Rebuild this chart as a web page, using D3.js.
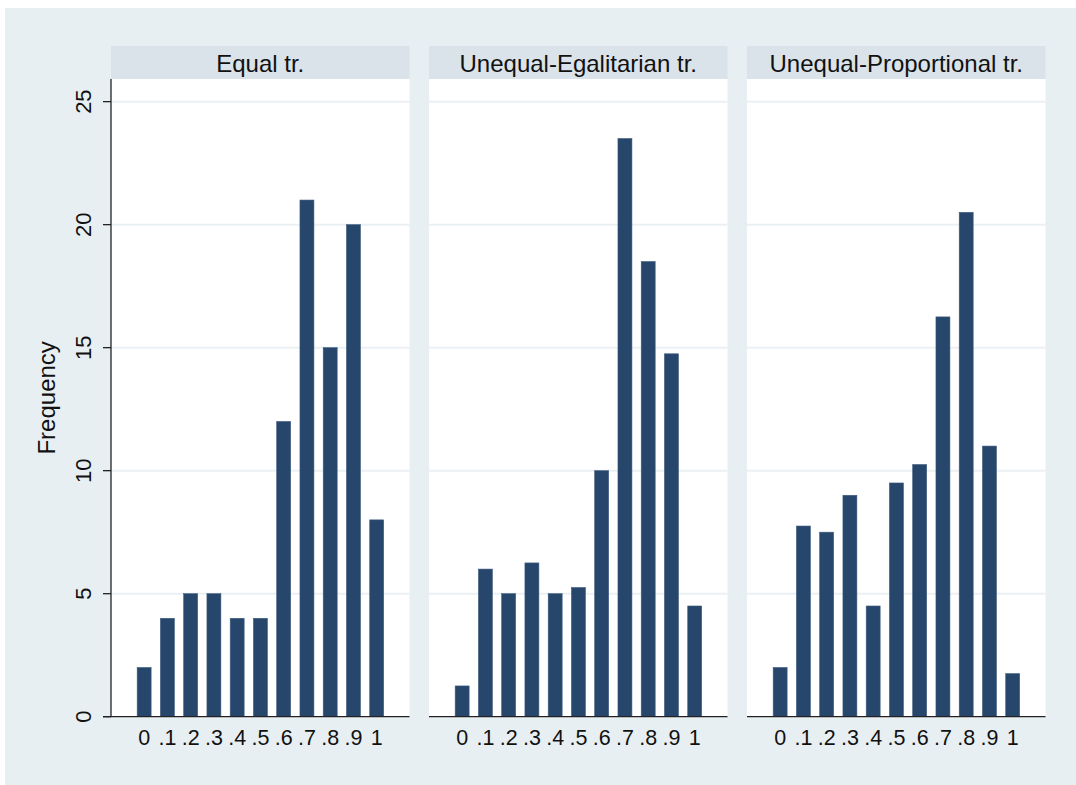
<!DOCTYPE html>
<html>
<head>
<meta charset="utf-8">
<script src="https://cdn.jsdelivr.net/npm/d3@7"></script>
<style>
  body { margin: 0; background: #fff; }
  text { font-family: "Liberation Sans", Arial, Helvetica, sans-serif; fill: #111; }
</style>
</head>
<body>
<svg width="1076" height="785"></svg>
<script>
// data
const bins = [0, 0.1, 0.2, 0.3, 0.4, 0.5, 0.6, 0.7, 0.8, 0.9, 1]
const binLabels = ['0', '.1', '.2', '.3', '.4', '.5', '.6', '.7', '.8', '.9', '1']
const panelTitles = ['Equal tr.', 'Unequal-Egalitarian tr.', 'Unequal-Proportional tr.']
const equalFreq = [2, 4, 5, 5, 4, 4, 12, 21, 15, 20, 8]
const egalFreq = [1.25, 6, 5, 6.25, 5, 5.25, 10, 23.5, 18.5, 14.75, 4.5]
const propFreq = [2, 7.75, 7.5, 9, 4.5, 9.5, 10.25, 16.25, 20.5, 11, 1.75]
const yTicks = [0, 5, 10, 15, 20, 25]

const series = [equalFreq, egalFreq, propFreq]

const svg = d3.select('svg')

// outer background
svg.append('rect')
   .attr('x', 5).attr('y', 8)
   .attr('width', 1071).attr('height', 777)
   .attr('fill', '#e8eff2')

const panelLeft = [111, 429, 747]
const panelW = 298.5
const headerTop = 46
const plotTop = 79
const plotBottom = 716.7

const y = d3.scaleLinear()
   .domain([0, 25.92])
   .range([plotBottom, plotTop])

const x = d3.scaleLinear()
   .domain([-0.1425, 1.141])
   .range([0, panelW])

const barHalf = 0.03

series.forEach((vals, i) => {
   const g = svg.append('g')
      .attr('transform', `translate(${panelLeft[i]},0)`)

   // header strip
   g.append('rect')
      .attr('x', 0).attr('y', headerTop)
      .attr('width', panelW).attr('height', plotTop - headerTop)
      .attr('fill', '#dae3e9')

   g.append('text')
      .attr('x', panelW / 2)
      .attr('y', (headerTop + plotTop) / 2 + 0.5)
      .attr('text-anchor', 'middle')
      .attr('dominant-baseline', 'central')
      .attr('font-size', 24)
      .text(panelTitles[i])

   // plot area
   g.append('rect')
      .attr('x', 0).attr('y', plotTop)
      .attr('width', panelW).attr('height', plotBottom - plotTop)
      .attr('fill', '#fff')

   // gridlines
   g.selectAll('line.grid')
      .data(yTicks.filter(d => d > 0))
      .enter()
      .append('line')
      .attr('class', 'grid')
      .attr('x1', 0).attr('x2', panelW)
      .attr('y1', d => y(d)).attr('y2', d => y(d))
      .attr('stroke', '#ebf0f3')
      .attr('stroke-width', 2)

   // bars
   g.selectAll('rect.bar')
      .data(vals)
      .enter()
      .append('rect')
      .attr('class', 'bar')
      .attr('x', (d, j) => x(bins[j] - barHalf))
      .attr('width', (d, j) => x(bins[j] + barHalf) - x(bins[j] - barHalf))
      .attr('y', d => y(d))
      .attr('height', d => plotBottom - y(d))
      .attr('fill', '#27466c')
      .attr('stroke', '#3d5a7e')
      .attr('stroke-width', 0.6)

   // x axis line
   g.append('line')
      .attr('x1', i == 0 ? -8 : 0).attr('x2', panelW)
      .attr('y1', plotBottom).attr('y2', plotBottom)
      .attr('stroke', '#222')
      .attr('stroke-width', 1.3)

   // x labels
   g.selectAll('text.xl')
      .data(binLabels)
      .enter()
      .append('text')
      .attr('class', 'xl')
      .attr('x', (d, j) => x(bins[j]))
      .attr('y', 745)
      .attr('text-anchor', 'middle')
      .attr('font-size', 21.5)
      .text(d => d)
})

// y axis on the first panel
const yAxisGroup = svg.append('g')
   .attr('transform', `translate(${panelLeft[0]},0)`)

yAxisGroup.append('line')
   .attr('x1', 0).attr('x2', 0)
   .attr('y1', plotTop).attr('y2', plotBottom)
   .attr('stroke', '#222')
   .attr('stroke-width', 1.3)

yAxisGroup.selectAll('line.tick')
   .data(yTicks)
   .enter()
   .append('line')
   .attr('class', 'tick')
   .attr('x1', -8).attr('x2', 0)
   .attr('y1', d => y(d)).attr('y2', d => y(d))
   .attr('stroke', '#222')
   .attr('stroke-width', 1.3)

yAxisGroup.selectAll('text.yl')
   .data(yTicks)
   .enter()
   .append('text')
   .attr('class', 'yl')
   .attr('transform', d => `translate(-28,${y(d)}) rotate(-90)`)
   .attr('text-anchor', 'middle')
   .attr('dominant-baseline', 'central')
   .attr('font-size', 22)
   .text(d => d)

svg.append('text')
   .attr('transform', `translate(46,${(plotTop + plotBottom) / 2}) rotate(-90)`)
   .attr('text-anchor', 'middle')
   .attr('dominant-baseline', 'central')
   .attr('font-size', 24)
   .text('Frequency')
</script>
</body>
</html>
